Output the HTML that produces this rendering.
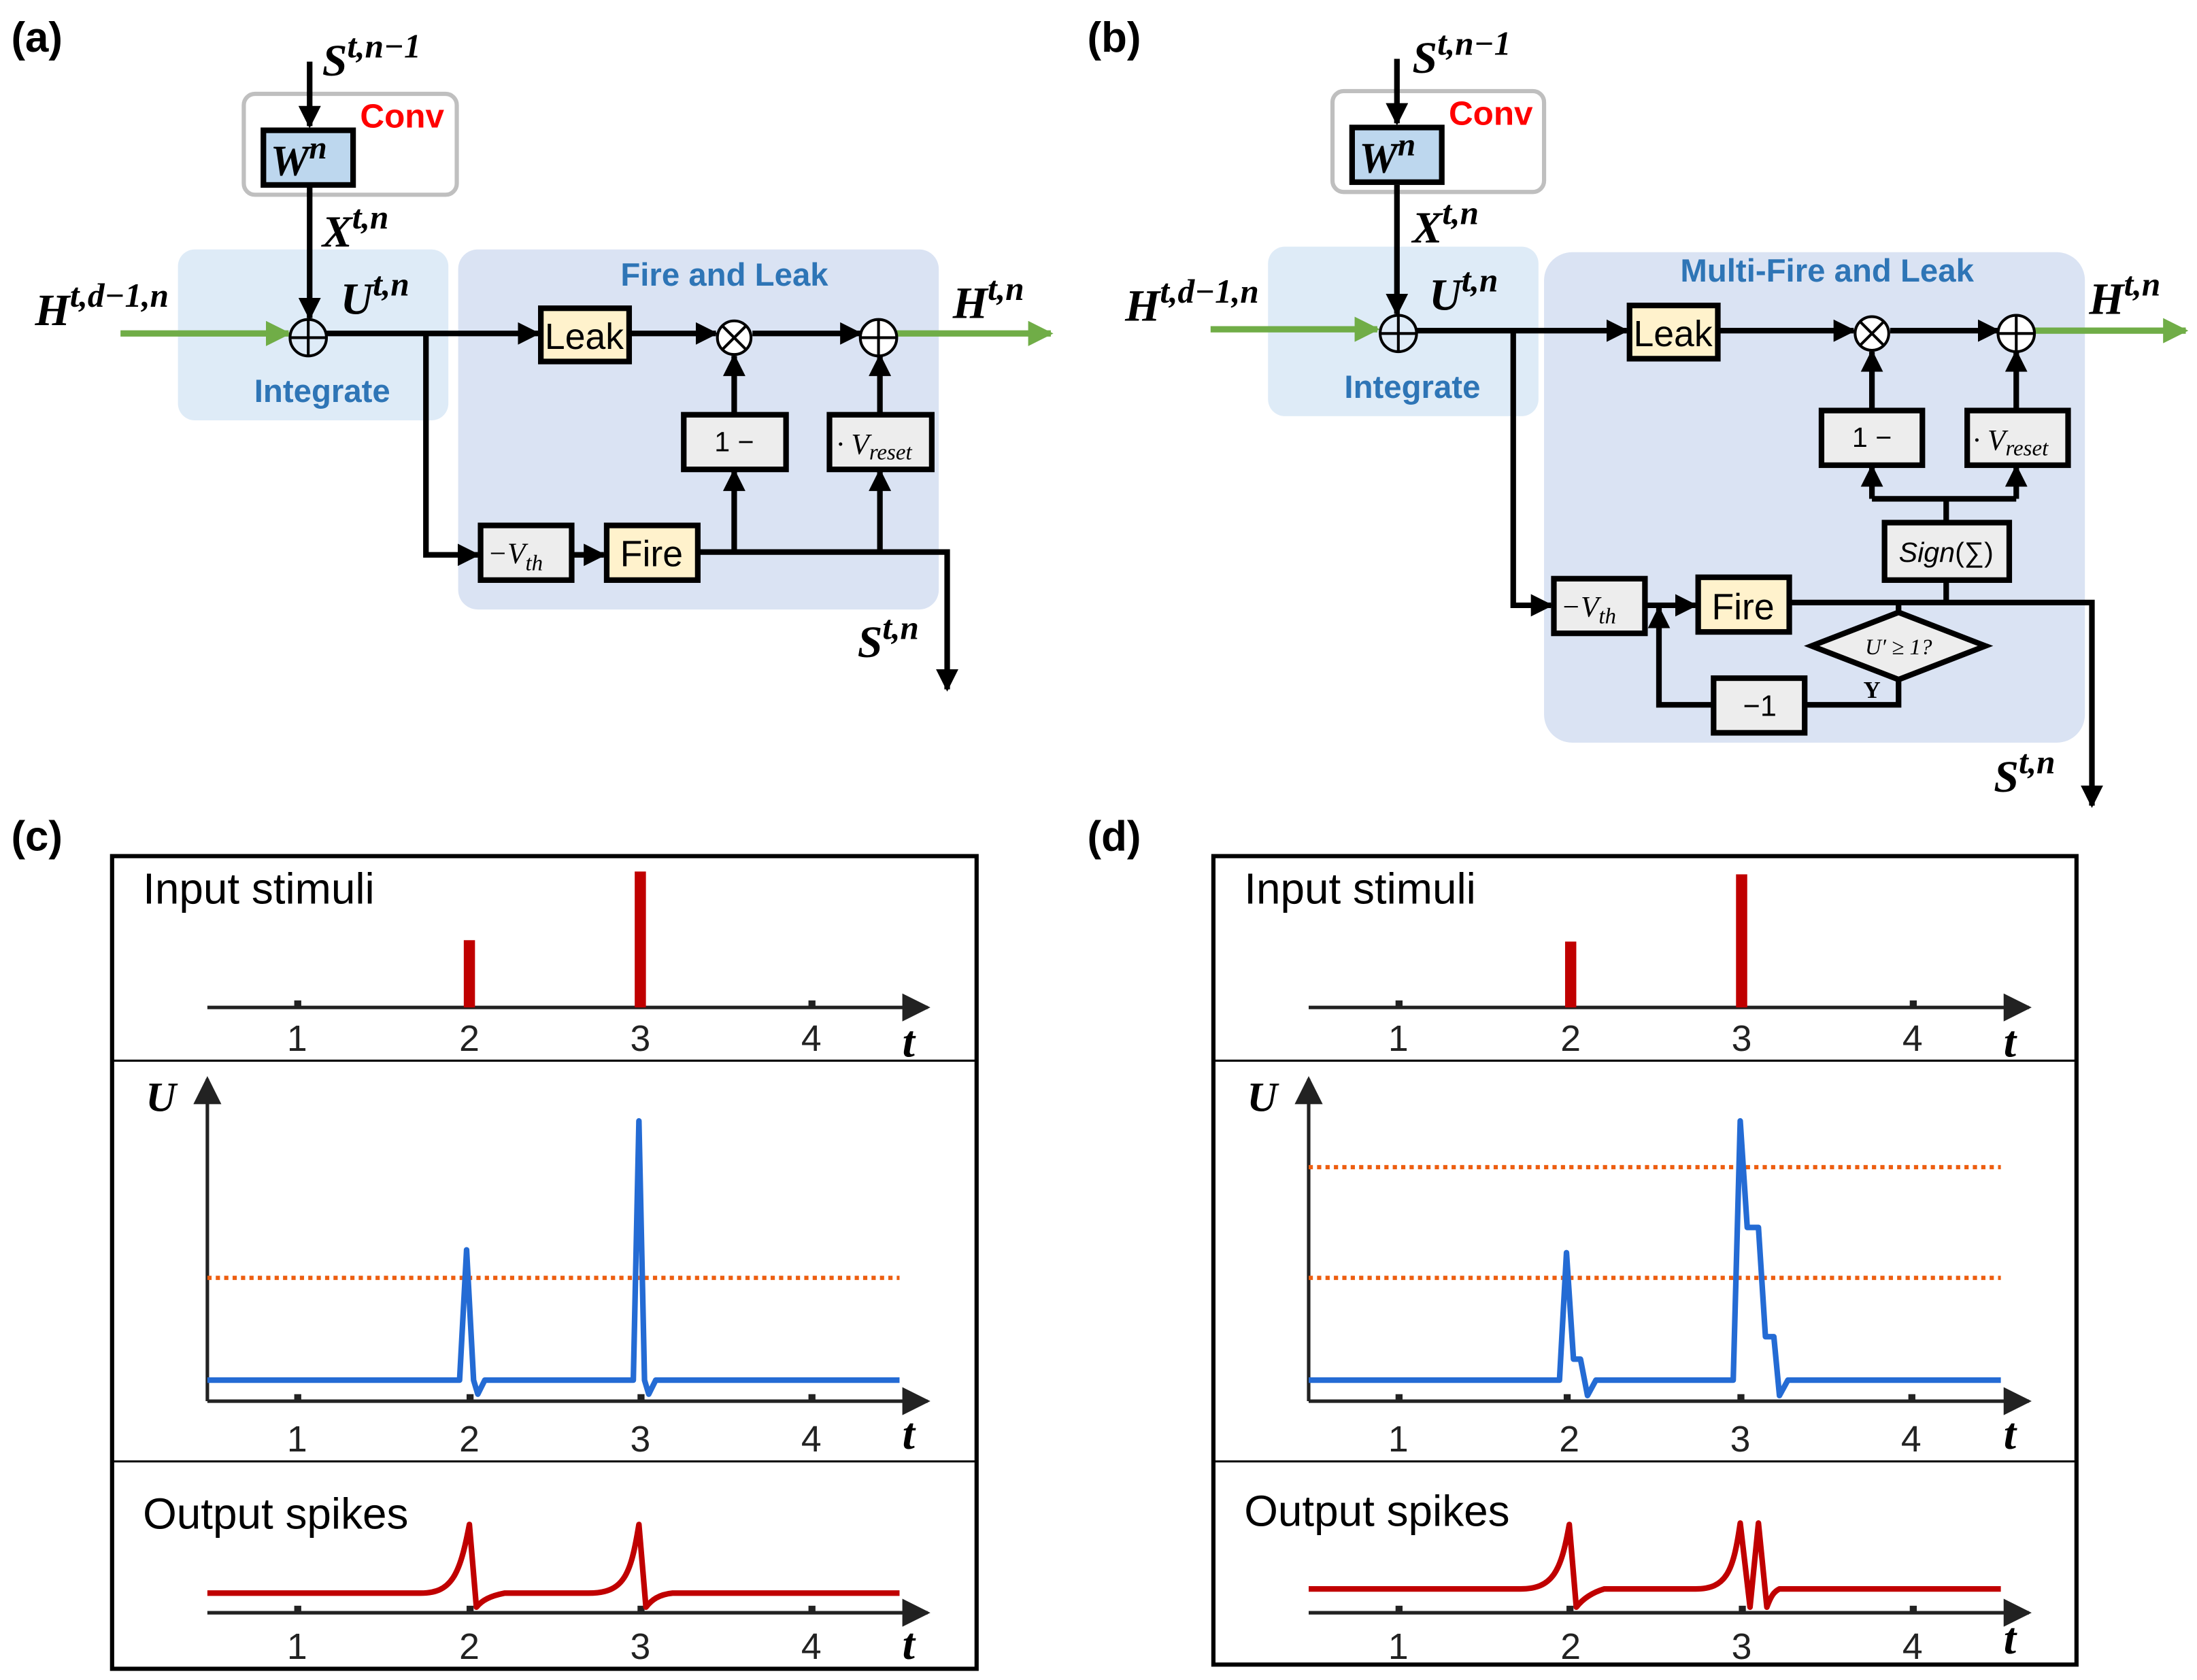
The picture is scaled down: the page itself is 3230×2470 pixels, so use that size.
<!DOCTYPE html>
<html><head><meta charset="utf-8"><style>
html,body{margin:0;padding:0;background:#fff;}
svg{display:block;}
.m{font-family:"Liberation Serif",serif;font-style:italic;font-weight:bold;}
.s{font-family:"Liberation Sans",sans-serif;}
.lab{font-family:"Liberation Sans",sans-serif;font-weight:bold;font-size:30px;}
.blue{fill:#2e75b6;font-family:"Liberation Sans",sans-serif;font-weight:bold;font-size:23px;}
.ax{font-family:"Liberation Sans",sans-serif;font-size:26px;fill:#222;}
</style></head><body>
<svg width="3230" height="2470" viewBox="0 0 1568 1199" preserveAspectRatio="none" xmlns="http://www.w3.org/2000/svg">
<defs>
<marker id="a2" viewBox="0 0 10 10" refX="9" refY="5" markerWidth="16" markerHeight="16" orient="auto" markerUnits="userSpaceOnUse"><path d="M0,0 L10,5 L0,10z" fill="#000"/></marker>
<marker id="ag" viewBox="0 0 10 10" refX="9" refY="5" markerWidth="18" markerHeight="18" orient="auto" markerUnits="userSpaceOnUse"><path d="M0,0 L10,5 L0,10z" fill="#70ad47"/></marker>
<marker id="ak" viewBox="0 0 10 10" refX="9" refY="5" markerWidth="20" markerHeight="20" orient="auto" markerUnits="userSpaceOnUse"><path d="M0,0 L10,5 L0,10z" fill="#222"/></marker>
</defs>

<!-- ============ PANEL A ============ -->
<text x="8" y="37" class="lab">(a)</text>
<rect x="127" y="178" width="193" height="122" rx="12" fill="#deebf7"/>
<rect x="327" y="178" width="343" height="257" rx="14" fill="#dae3f3"/>
<rect x="174" y="67" width="152" height="72" rx="8" fill="#fff" stroke="#bfbfbf" stroke-width="3"/>
<text x="257" y="91" class="s" fill="#ff0000" font-size="24" font-weight="bold">Conv</text>
<text x="230" y="54" class="m" font-size="32">S<tspan font-size="24" dy="-13">t,n−1</tspan></text>
<g stroke="#000" stroke-width="4" fill="none">
<line x1="221" y1="44" x2="221" y2="90" marker-end="url(#a2)"/>
<line x1="221" y1="134" x2="221" y2="227" marker-end="url(#a2)"/>
</g>
<rect x="188" y="93" width="64" height="39" fill="#bdd7ee" stroke="#000" stroke-width="4"/>
<text x="193" y="125" class="m" font-size="31">W<tspan font-size="23" dy="-12">n</tspan></text>
<text x="230" y="176" class="m" font-size="32">X<tspan font-size="24" dy="-13">t,n</tspan></text>
<text x="25" y="232" class="m" font-size="32">H<tspan font-size="24" dy="-13">t,d−1,n</tspan></text>
<text x="243" y="224" class="m" font-size="32">U<tspan font-size="24" dy="-13">t,n</tspan></text>
<line x1="86" y1="238" x2="206" y2="238" stroke="#70ad47" stroke-width="4.5" marker-end="url(#ag)"/>
<circle cx="220" cy="241" r="13" fill="none" stroke="#000" stroke-width="2"/>
<path d="M207,241H233M220,228V254" stroke="#000" stroke-width="2"/>
<text x="230" y="287" class="blue" text-anchor="middle">Integrate</text>
<text x="517" y="204" class="blue" text-anchor="middle">Fire and Leak</text>
<g stroke="#000" stroke-width="4" fill="none">
<line x1="233" y1="238" x2="384" y2="238" marker-end="url(#a2)"/>
<line x1="449" y1="238" x2="511" y2="238" marker-end="url(#a2)"/>
<line x1="537" y1="238" x2="614" y2="238" marker-end="url(#a2)"/>
<polyline points="304,238 304,396 341,396" marker-end="url(#a2)"/>
<line x1="408" y1="396" x2="431" y2="396" marker-end="url(#a2)"/>
<polyline points="498,394 676,394 676,492" marker-end="url(#a2)"/>
<line x1="524" y1="394" x2="524" y2="336" marker-end="url(#a2)"/>
<line x1="628" y1="394" x2="628" y2="336" marker-end="url(#a2)"/>
<line x1="524" y1="295" x2="524" y2="254" marker-end="url(#a2)"/>
<line x1="628" y1="295" x2="628" y2="254" marker-end="url(#a2)"/>
</g>
<line x1="640" y1="238" x2="750" y2="238" stroke="#70ad47" stroke-width="4.5" marker-end="url(#ag)"/>
<text x="680" y="227" class="m" font-size="32">H<tspan font-size="24" dy="-13">t,n</tspan></text>
<rect x="386" y="220" width="63" height="38" fill="#fff2cc" stroke="#000" stroke-width="4"/>
<text x="417" y="249" class="s" font-size="26" text-anchor="middle">Leak</text>
<circle cx="524" cy="241" r="12" fill="#fff" stroke="#000" stroke-width="2"/>
<path d="M516,233L532,249M532,233L516,249" stroke="#000" stroke-width="2"/>
<circle cx="627" cy="241" r="13" fill="#fff" stroke="#000" stroke-width="2"/>
<path d="M614,241H640M627,228V254" stroke="#000" stroke-width="2"/>
<rect x="488" y="296" width="73" height="39" fill="#ededed" stroke="#000" stroke-width="4"/>
<text x="524" y="322" class="s" font-size="20" text-anchor="middle">1 −</text>
<rect x="592" y="296" width="73" height="39" fill="#ededed" stroke="#000" stroke-width="4"/>
<text x="597" y="324" font-family="Liberation Serif,serif" font-style="italic" font-size="21">· V<tspan font-size="16" dy="4">reset</tspan></text>
<rect x="343" y="375" width="65" height="39" fill="#ededed" stroke="#000" stroke-width="4"/>
<text x="348" y="402" font-family="Liberation Serif,serif" font-style="italic" font-size="21">−V<tspan font-size="16" dy="5">th</tspan></text>
<rect x="433" y="375" width="65" height="39" fill="#fff2cc" stroke="#000" stroke-width="4"/>
<text x="465" y="404" class="s" font-size="26" text-anchor="middle">Fire</text>
<text x="612" y="469" class="m" font-size="32">S<tspan font-size="24" dy="-13">t,n</tspan></text>

<!-- ============ PANEL B ============ -->
<text x="776" y="37" class="lab">(b)</text>
<rect x="905" y="176" width="193" height="121" rx="12" fill="#deebf7"/>
<rect x="1102" y="180" width="386" height="350" rx="20" fill="#dae3f3"/>
<rect x="951" y="65" width="151" height="72" rx="8" fill="#fff" stroke="#bfbfbf" stroke-width="3"/>
<text x="1034" y="89" class="s" fill="#ff0000" font-size="24" font-weight="bold">Conv</text>
<text x="1008" y="52" class="m" font-size="32">S<tspan font-size="24" dy="-13">t,n−1</tspan></text>
<g stroke="#000" stroke-width="4" fill="none">
<line x1="997" y1="42" x2="997" y2="88" marker-end="url(#a2)"/>
<line x1="997" y1="132" x2="997" y2="224" marker-end="url(#a2)"/>
</g>
<rect x="965" y="91" width="64" height="39" fill="#bdd7ee" stroke="#000" stroke-width="4"/>
<text x="970" y="123" class="m" font-size="31">W<tspan font-size="23" dy="-12">n</tspan></text>
<text x="1008" y="173" class="m" font-size="32">X<tspan font-size="24" dy="-13">t,n</tspan></text>
<text x="803" y="229" class="m" font-size="32">H<tspan font-size="24" dy="-13">t,d−1,n</tspan></text>
<text x="1020" y="221" class="m" font-size="32">U<tspan font-size="24" dy="-13">t,n</tspan></text>
<line x1="864" y1="235" x2="983" y2="235" stroke="#70ad47" stroke-width="4.5" marker-end="url(#ag)"/>
<circle cx="998" cy="238" r="13" fill="none" stroke="#000" stroke-width="2"/>
<path d="M985,238H1011M998,225V251" stroke="#000" stroke-width="2"/>
<text x="1008" y="284" class="blue" text-anchor="middle">Integrate</text>
<text x="1304" y="201" class="blue" text-anchor="middle">Multi-Fire and Leak</text>
<g stroke="#000" stroke-width="4" fill="none">
<line x1="1011" y1="236" x2="1161" y2="236" marker-end="url(#a2)"/>
<line x1="1226" y1="236" x2="1323" y2="236" marker-end="url(#a2)"/>
<line x1="1349" y1="236" x2="1426" y2="236" marker-end="url(#a2)"/>
<polyline points="1080,236 1080,432 1107,432" marker-end="url(#a2)"/>
<line x1="1174" y1="432" x2="1210" y2="432" marker-end="url(#a2)"/>
<polyline points="1277,430 1493,430 1493,575" marker-end="url(#a2)"/>
<polyline points="1389,430 1389,414"/>
<polyline points="1389,372 1389,356"/>
<polyline points="1336,356 1439,356"/>
<line x1="1336" y1="356" x2="1336" y2="333" marker-end="url(#a2)"/>
<line x1="1439" y1="356" x2="1439" y2="333" marker-end="url(#a2)"/>
<line x1="1336" y1="292" x2="1336" y2="251" marker-end="url(#a2)"/>
<line x1="1439" y1="292" x2="1439" y2="251" marker-end="url(#a2)"/>
<line x1="1355" y1="430" x2="1355" y2="437"/>
<polyline points="1355,485 1355,503 1289,503"/>
<polyline points="1222,503 1184,503 1184,434" marker-end="url(#a2)"/>
</g>
<line x1="1452" y1="236" x2="1560" y2="236" stroke="#70ad47" stroke-width="4.5" marker-end="url(#ag)"/>
<text x="1491" y="224" class="m" font-size="32">H<tspan font-size="24" dy="-13">t,n</tspan></text>
<rect x="1163" y="218" width="63" height="38" fill="#fff2cc" stroke="#000" stroke-width="4"/>
<text x="1194" y="247" class="s" font-size="26" text-anchor="middle">Leak</text>
<circle cx="1336" cy="238" r="12" fill="#fff" stroke="#000" stroke-width="2"/>
<path d="M1328,230L1344,246M1344,230L1328,246" stroke="#000" stroke-width="2"/>
<circle cx="1439" cy="238" r="13" fill="#fff" stroke="#000" stroke-width="2"/>
<path d="M1426,238H1452M1439,225V251" stroke="#000" stroke-width="2"/>
<rect x="1300" y="293" width="72" height="39" fill="#ededed" stroke="#000" stroke-width="4"/>
<text x="1336" y="319" class="s" font-size="20" text-anchor="middle">1 −</text>
<rect x="1404" y="293" width="72" height="39" fill="#ededed" stroke="#000" stroke-width="4"/>
<text x="1408" y="321" font-family="Liberation Serif,serif" font-style="italic" font-size="21">· V<tspan font-size="16" dy="4">reset</tspan></text>
<rect x="1345" y="373" width="89" height="41" fill="#ededed" stroke="#000" stroke-width="4"/>
<text x="1389" y="401" class="s" font-size="20" text-anchor="middle"><tspan font-style="italic">Sign</tspan>(∑)</text>
<rect x="1109" y="413" width="65" height="39" fill="#ededed" stroke="#000" stroke-width="4"/>
<text x="1114" y="440" font-family="Liberation Serif,serif" font-style="italic" font-size="21">−V<tspan font-size="16" dy="5">th</tspan></text>
<rect x="1212" y="412" width="65" height="39" fill="#fff2cc" stroke="#000" stroke-width="4"/>
<text x="1244" y="442" class="s" font-size="26" text-anchor="middle">Fire</text>
<polygon points="1355,437 1417,461 1355,485 1293,461" fill="#ededed" stroke="#000" stroke-width="4"/>
<text x="1355" y="467" font-family="Liberation Serif,serif" font-style="italic" font-size="16" text-anchor="middle">U′ ≥ 1?</text>
<text x="1336" y="498" font-family="Liberation Serif,serif" font-weight="bold" font-size="17" text-anchor="middle">Y</text>
<rect x="1223" y="484" width="65" height="39" fill="#ededed" stroke="#000" stroke-width="4"/>
<text x="1256" y="511" class="s" font-size="21" text-anchor="middle">−1</text>
<text x="1423" y="565" class="m" font-size="32">S<tspan font-size="24" dy="-13">t,n</tspan></text>

<!-- ============ PANEL C ============ -->
<text x="8" y="607" class="lab">(c)</text>
<rect x="80" y="611" width="617" height="580" fill="none" stroke="#000" stroke-width="3"/>
<line x1="80" y1="757" x2="697" y2="757" stroke="#000" stroke-width="1.5"/>
<line x1="80" y1="1043" x2="697" y2="1043" stroke="#000" stroke-width="1.5"/>
<text x="102" y="645" class="s" font-size="31">Input stimuli</text>
<text x="102" y="1091" class="s" font-size="31">Output spikes</text>
<text x="104" y="793" class="m" font-size="30">U</text>
<g stroke="#222" stroke-width="2.5">
<line x1="148" y1="719" x2="662" y2="719" marker-end="url(#ak)"/>
<line x1="148" y1="1000" x2="662" y2="1000" marker-end="url(#ak)"/>
<line x1="148" y1="1151" x2="662" y2="1151" marker-end="url(#ak)"/>
<line x1="148" y1="1000" x2="148" y2="770" marker-end="url(#ak)"/>
</g>
<g fill="#222">
<rect x="210" y="714" width="5" height="5"/><rect x="333" y="714" width="5" height="5"/><rect x="455" y="714" width="5" height="5"/><rect x="577" y="714" width="5" height="5"/>
<rect x="210" y="995" width="5" height="5"/><rect x="333" y="995" width="5" height="5"/><rect x="455" y="995" width="5" height="5"/><rect x="577" y="995" width="5" height="5"/>
<rect x="210" y="1146" width="5" height="5"/><rect x="333" y="1146" width="5" height="5"/><rect x="455" y="1146" width="5" height="5"/><rect x="577" y="1146" width="5" height="5"/>
</g>
<g class="ax" text-anchor="middle">
<text x="212" y="750">1</text><text x="335" y="750">2</text><text x="457" y="750">3</text><text x="579" y="750">4</text>
<text x="212" y="1036">1</text><text x="335" y="1036">2</text><text x="457" y="1036">3</text><text x="579" y="1036">4</text>
<text x="212" y="1184">1</text><text x="335" y="1184">2</text><text x="457" y="1184">3</text><text x="579" y="1184">4</text>
</g>
<text x="644" y="754" class="m" font-size="32">t</text>
<text x="644" y="1034" class="m" font-size="32">t</text>
<text x="644" y="1184" class="m" font-size="32">t</text>
<rect x="331" y="671" width="8" height="48" fill="#c00000"/>
<rect x="453" y="622" width="8" height="97" fill="#c00000"/>
<line x1="148" y1="912" x2="642" y2="912" stroke="#ed5e10" stroke-width="3" stroke-dasharray="3,3"/>
<polyline points="148,985 328,985 333,892 338,985 341,995 346,985 452,985 456,800 460,985 463,995 468,985 642,985" fill="none" stroke="#246bd4" stroke-width="4" stroke-linejoin="round"/>
<path d="M148,1137 L300,1137 C322,1137 328,1125 335,1088 L340,1147 C344,1142 350,1139 360,1137 L420,1137 C445,1137 450,1125 456,1088 L461,1147 C465,1142 470,1138 480,1137 L642,1137" fill="none" stroke="#c00000" stroke-width="4" stroke-linejoin="round"/>

<!-- ============ PANEL D ============ -->
<text x="776" y="607" class="lab">(d)</text>
<rect x="866" y="611" width="616" height="577" fill="none" stroke="#000" stroke-width="3"/>
<line x1="866" y1="757" x2="1482" y2="757" stroke="#000" stroke-width="1.5"/>
<line x1="866" y1="1043" x2="1482" y2="1043" stroke="#000" stroke-width="1.5"/>
<text x="888" y="645" class="s" font-size="31">Input stimuli</text>
<text x="888" y="1089" class="s" font-size="31">Output spikes</text>
<text x="890" y="793" class="m" font-size="30">U</text>
<g stroke="#222" stroke-width="2.5">
<line x1="934" y1="719" x2="1448" y2="719" marker-end="url(#ak)"/>
<line x1="934" y1="1000" x2="1448" y2="1000" marker-end="url(#ak)"/>
<line x1="934" y1="1151" x2="1448" y2="1151" marker-end="url(#ak)"/>
<line x1="934" y1="1000" x2="934" y2="770" marker-end="url(#ak)"/>
</g>
<g fill="#222">
<rect x="996" y="714" width="5" height="5"/><rect x="1119" y="714" width="5" height="5"/><rect x="1241" y="714" width="5" height="5"/><rect x="1363" y="714" width="5" height="5"/>
<rect x="996" y="995" width="5" height="5"/><rect x="1116" y="995" width="5" height="5"/><rect x="1240" y="995" width="5" height="5"/><rect x="1362" y="995" width="5" height="5"/>
<rect x="996" y="1146" width="5" height="5"/><rect x="1118" y="1146" width="5" height="5"/><rect x="1241" y="1146" width="5" height="5"/><rect x="1363" y="1146" width="5" height="5"/>
</g>
<g class="ax" text-anchor="middle">
<text x="998" y="750">1</text><text x="1121" y="750">2</text><text x="1243" y="750">3</text><text x="1365" y="750">4</text>
<text x="998" y="1036">1</text><text x="1120" y="1036">2</text><text x="1242" y="1036">3</text><text x="1364" y="1036">4</text>
<text x="998" y="1184">1</text><text x="1121" y="1184">2</text><text x="1243" y="1184">3</text><text x="1365" y="1184">4</text>
</g>
<text x="1430" y="754" class="m" font-size="32">t</text>
<text x="1430" y="1034" class="m" font-size="32">t</text>
<text x="1430" y="1180" class="m" font-size="32">t</text>
<rect x="1117" y="672" width="8" height="47" fill="#c00000"/>
<rect x="1239" y="624" width="8" height="95" fill="#c00000"/>
<line x1="934" y1="833" x2="1428" y2="833" stroke="#ed5e10" stroke-width="3" stroke-dasharray="3,3"/>
<line x1="934" y1="912" x2="1428" y2="912" stroke="#ed5e10" stroke-width="3" stroke-dasharray="3,3"/>
<polyline points="934,985 1113,985 1118,894 1123,970 1128,970 1133,996 1139,985 1237,985 1242,800 1247,876 1255,876 1260,954 1266,954 1270,996 1276,985 1428,985" fill="none" stroke="#246bd4" stroke-width="4" stroke-linejoin="round"/>
<path d="M934,1134 L1085,1134 C1108,1134 1114,1122 1120,1088 L1125,1147 C1129,1142 1135,1137 1145,1134 L1210,1134 C1232,1134 1237,1122 1242,1087 L1249,1147 L1255,1087 L1261,1147 C1264,1139 1266,1136 1270,1134 L1428,1134" fill="none" stroke="#c00000" stroke-width="4" stroke-linejoin="round"/>
</svg>
</body></html>
